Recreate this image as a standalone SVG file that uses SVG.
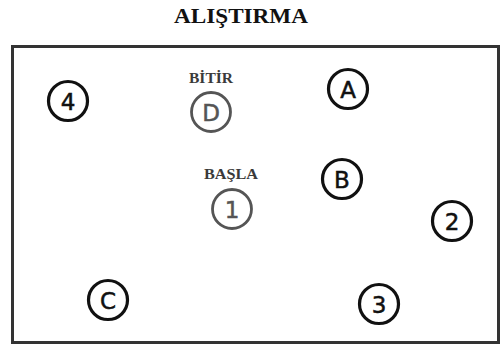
<svg xmlns="http://www.w3.org/2000/svg" width="501" height="347" viewBox="0 0 501 347">
<style>
.ring{fill:none;stroke:#111;stroke-width:3.2}
.ring.g{stroke:#555;stroke-width:2.8}
.lt{font-family:"DejaVu Sans","Liberation Sans",sans-serif;font-size:23px;fill:#111;text-anchor:middle;dominant-baseline:central;stroke:#111;stroke-width:0.5}
.lt.g{fill:#555;stroke:#555}
.lab{font-family:"Liberation Serif","DejaVu Serif",serif;font-weight:bold;font-size:14px;fill:#3a3a3a;text-anchor:middle}
.title{font-family:"Liberation Serif","DejaVu Serif",serif;font-weight:bold;font-size:20px;fill:#111;text-anchor:middle}
</style>
<rect width="501" height="347" fill="#fff"/>
<text class="title" x="241" y="23" textLength="134" lengthAdjust="spacingAndGlyphs">ALIŞTIRMA</text>
<rect x="12.5" y="46.5" width="486" height="296" fill="none" stroke="#333" stroke-width="3"/>
<g id="n4"><circle class="ring" cx="68" cy="101" r="19.5"/><text class="lt" x="68" y="102">4</text></g>
<g id="nD"><text class="lab" x="211" y="83" textLength="44" lengthAdjust="spacingAndGlyphs">BİTİR</text><circle class="ring g" cx="211" cy="112" r="19.5"/><text class="lt g" x="211" y="113">D</text></g>
<g id="nA"><circle class="ring" cx="348" cy="89" r="19.5"/><text class="lt" x="348" y="90">A</text></g>
<g id="n1"><text class="lab" x="231" y="179" textLength="54" lengthAdjust="spacingAndGlyphs">BAŞLA</text><circle class="ring g" cx="232" cy="209" r="19.5"/><text class="lt g" x="232" y="210">1</text></g>
<g id="nB"><circle class="ring" cx="342" cy="179" r="19.5"/><text class="lt" x="342" y="180">B</text></g>
<g id="n2"><circle class="ring" cx="452" cy="221" r="19.5"/><text class="lt" x="452" y="222">2</text></g>
<g id="nC"><circle class="ring" cx="108" cy="300" r="19.5"/><text class="lt" x="108" y="301">C</text></g>
<g id="n3"><circle class="ring" cx="379" cy="304" r="19.5"/><text class="lt" x="379" y="305">3</text></g>
<g id="connectors"></g>
</svg>
